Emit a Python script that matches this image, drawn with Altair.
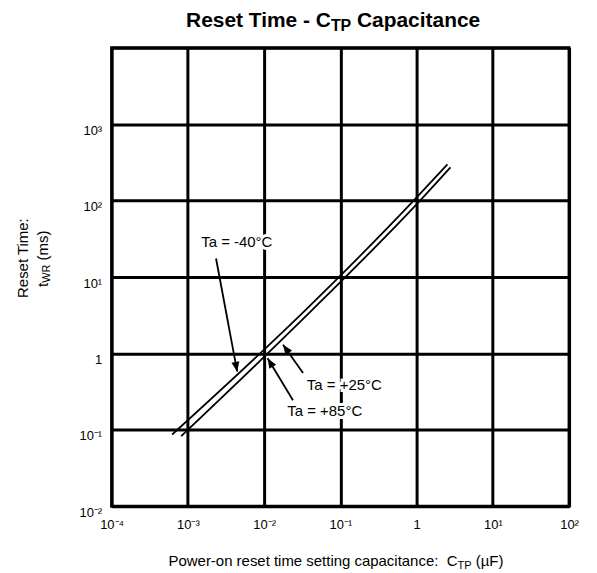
import json
import math
import altair as alt
import pandas as pd

# ---------------- data ----------------
# curve for Ta = -40 degC (left line) and Ta = +25/+85 degC (right line)
cap_m40 = [6.22e-4, 0.0351, 0.914, 2.54]
time_m40 = [0.0869, 3.71, 100, 298]
cap_hot = [8.15e-4, 0.0428, 1.11, 2.78]
time_hot = [0.0826, 3.71, 100, 272]

x_ticks = [0.0001, 0.001, 0.01, 0.1, 1, 10, 100]
x_tick_labels = ["10⁻⁴", "10⁻³", "10⁻²", "10⁻¹", "1", "10¹", "10²"]
y_ticks = [0.01, 0.1, 1, 10, 100, 1000, 10000]
y_tick_labels = ["10⁻²", "10⁻¹", "1", "10¹", "10²", "10³", ""]

ann_text = ["Ta = -40°C", "Ta = +25°C", "Ta = +85°C"]
ann_text_c = [4.38e-3, 0.1127, 0.0624]
ann_text_t = [28.9, 0.390, 0.175]
ann_from_c = [2.34e-3, 0.0324, 0.0239]
ann_from_t = [17.5, 0.555, 0.244]
ann_tip_c = [4.44e-3, 0.0177, 0.0111]
ann_tip_t = [0.577, 1.30, 0.865]

# ---------------- layout ----------------
FONT = "Liberation Sans"
W, H = 459, 460
PAD = {"left": 104, "top": 39, "right": 20, "bottom": 65}
OX, OY = 8 + PAD["left"], 8 + PAD["top"]
PX_DEC_X, PX_DEC_Y = W / 6, H / 6

curves = pd.DataFrame({
    "c": cap_m40 + cap_hot,
    "t": time_m40 + time_hot,
    "s": ["-40"] * len(cap_m40) + ["hot"] * len(cap_hot),
})

angles = []
for c0, t0, c1, t1 in zip(ann_from_c, ann_from_t, ann_tip_c, ann_tip_t):
    dx = (math.log10(c1) - math.log10(c0)) * PX_DEC_X
    dy = -(math.log10(t1) - math.log10(t0)) * PX_DEC_Y
    angles.append(math.degrees(math.atan2(dx, -dy)) % 360)

ann = pd.DataFrame({
    "txt": ann_text, "c": ann_text_c, "t": ann_text_t,
    "c0": ann_from_c, "t0": ann_from_t, "c1": ann_tip_c, "t1": ann_tip_t,
    "ang": angles,
})

xscale = alt.Scale(type="log", domain=[0.0001, 100], nice=False)
yscale = alt.Scale(type="log", domain=[0.01, 10000], nice=False)

x_expr = "%s[indexof(%s, datum.value)]" % (
    json.dumps(x_tick_labels, ensure_ascii=False), json.dumps(x_ticks))
y_expr = "%s[indexof(%s, datum.value)]" % (
    json.dumps(y_tick_labels, ensure_ascii=False), json.dumps(y_ticks))

x_axis = alt.Axis(values=x_ticks, labelExpr=x_expr, title=None, grid=True,
                  labelFlush=False, labelOverlap=False, labelPadding=12,
                  labelBaseline="top", labelAlign="center")
y_axis = alt.Axis(values=y_ticks, labelExpr=y_expr, title=None, grid=True,
                  labelFlush=False, labelOverlap=False, labelPadding=10,
                  labelBaseline="top", labelAlign="right")


def X(field):
    return alt.X(field, scale=xscale, axis=x_axis)


def Y(field):
    return alt.Y(field, scale=yscale, axis=y_axis)


base_curves = alt.Chart(curves).mark_line(
    color="black", strokeWidth=1.8, interpolate="monotone"
).encode(x=X("c:Q"), y=Y("t:Q"), detail="s:N")

halo = alt.Chart(ann).mark_text(
    font=FONT, fontSize=15, fill="white", stroke="white", strokeWidth=6,
    align="center", baseline="middle",
).encode(x=X("c:Q"), y=Y("t:Q"), text="txt:N")

labels = alt.Chart(ann).mark_text(
    font=FONT, fontSize=15, color="black", align="center", baseline="middle",
).encode(x=X("c:Q"), y=Y("t:Q"), text="txt:N")

rules = alt.Chart(ann).mark_rule(color="black", strokeWidth=1.8).encode(
    x=X("c0:Q"), y=Y("t0:Q"), x2="c1:Q", y2="t1:Q",
)
heads = alt.Chart(ann).mark_point(
    shape="M0,0L-0.4,1L0.4,1Z", filled=True, color="black", size=400,
    opacity=1, strokeWidth=0,
).encode(x=X("c1:Q"), y=Y("t1:Q"), angle=alt.Angle("ang:Q", scale=None))


def piece(txt, px, py, size, bold=False, angle=0, align="left"):
    return alt.Chart(pd.DataFrame({"txt": [txt]})).mark_text(
        font=FONT, fontSize=size, fontWeight="bold" if bold else "normal",
        angle=angle, align=align, baseline="alphabetic", color="black",
    ).encode(text="txt:N", x=alt.value(px - OX), y=alt.value(py - OY))


pieces = [
    # chart title
    piece("Reset Time - C", 332, 26, 21, bold=True, align="right"),
    piece("TP", 332, 30, 16, bold=True),
    piece("Capacitance", 332 + 20.4 + 5.8, 26, 21, bold=True),
    # x-axis title
    piece("Power-on reset time setting capacitance:\u00a0 C", 459, 567, 15, align="right"),
    piece("TP", 459, 570, 11),
    piece("(µF)", 459 + 14.1 + 4.2, 567, 15),
    # y-axis title
    piece("Reset Time:", 28, 258, 15, angle=270, align="center"),
    piece("t", 48, 287, 15, angle=270),
    piece("WR", 50, 282.8, 11, angle=270),
    piece("(ms)", 48, 260.3, 15, angle=270),
]

chart = alt.layer(base_curves, halo, labels, rules, heads, *pieces).properties(
    width=W, height=H,
    autosize=alt.AutoSizeParams(type="none"),
    padding=PAD,
).configure(font=FONT, background="white").configure_view(
    stroke="black", strokeWidth=3,
).configure_axis(
    labelFont=FONT, labelFontSize=13, labelColor="black",
    gridColor="black", gridWidth=3, gridOpacity=1,
    domain=False, ticks=False, tickSize=0,
)

chart.save("out.html", embed_options={"renderer": "svg", "actions": False})
